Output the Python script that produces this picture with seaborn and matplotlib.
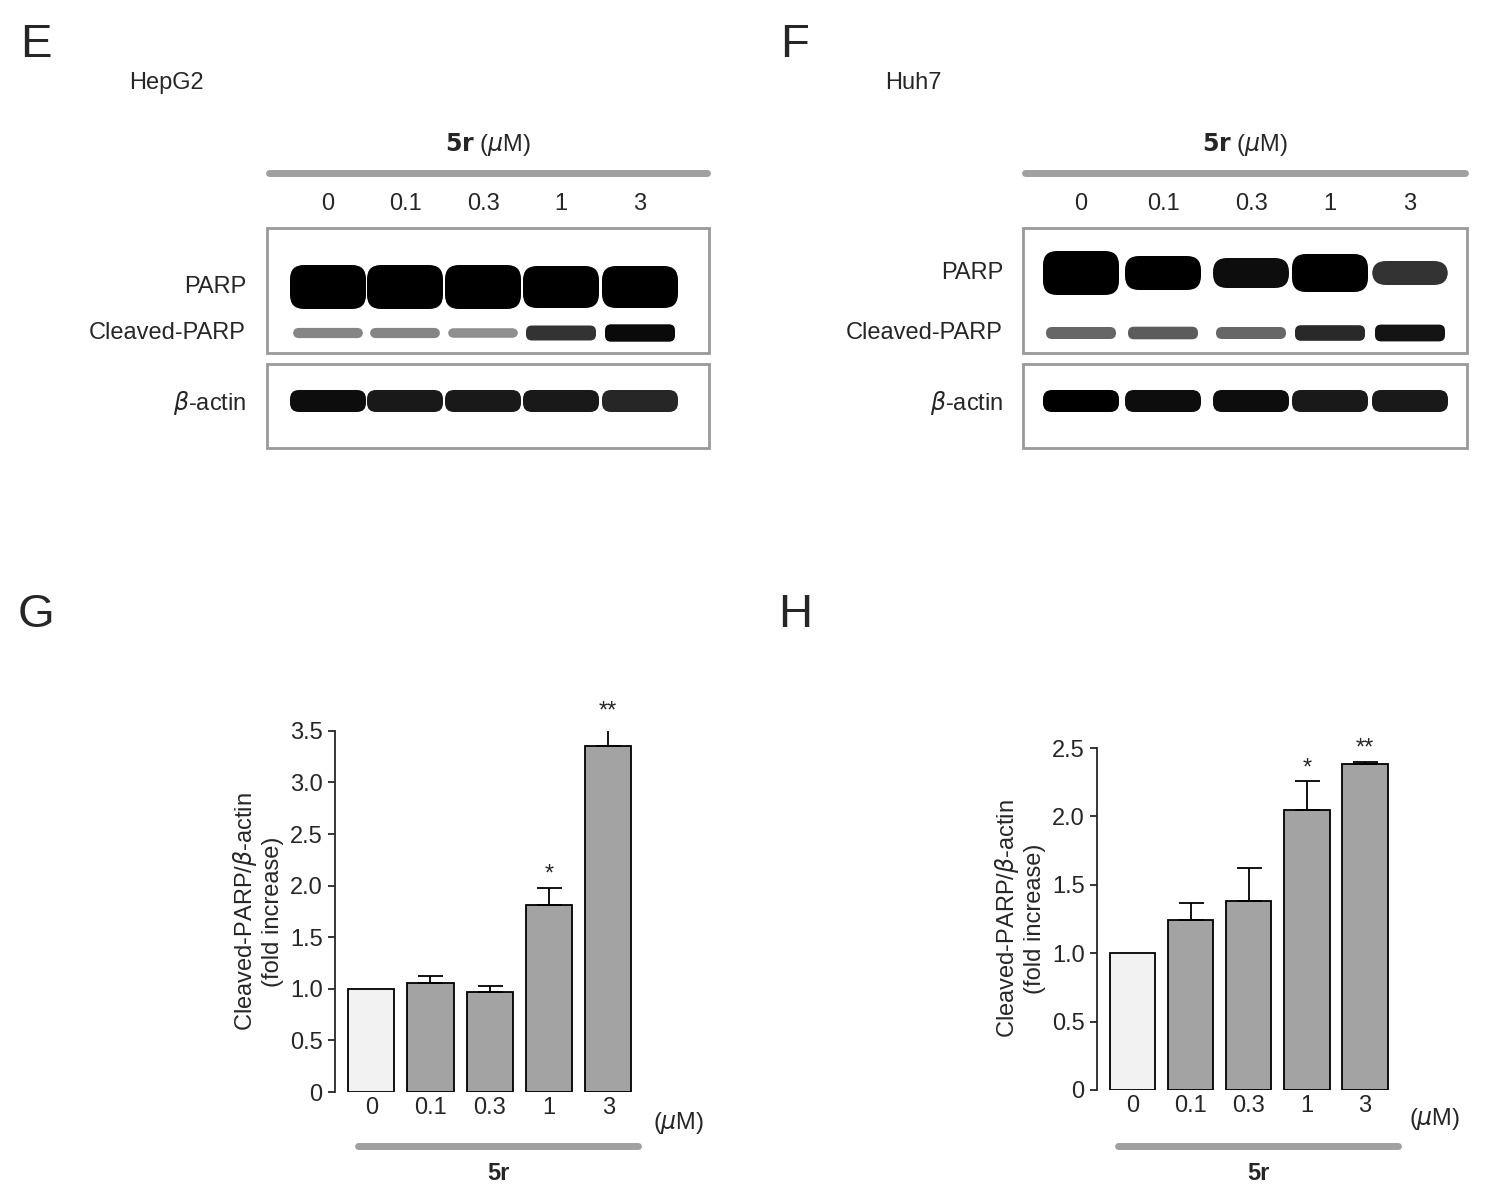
import matplotlib
matplotlib.use("Agg")
import matplotlib.pyplot as plt
import seaborn as sns
import pandas as pd
from matplotlib.patches import Rectangle, FancyBboxPatch

sns.set_theme(style="ticks")
plt.rcParams['font.family'] = ['Liberation Sans', 'DejaVu Sans']

doses = ["0", "0.1", "0.3", "1", "3"]
hepg2_mean = [1.0, 1.06, 0.97, 1.81, 3.35]
hepg2_err = [0.0, 0.06, 0.06, 0.17, 0.21]
hepg2_sig = ["", "", "", "*", "**"]
huh7_mean = [1.0, 1.24, 1.38, 2.05, 2.38]
huh7_err = [0.0, 0.13, 0.24, 0.21, 0.02]
huh7_sig = ["", "", "", "*", "**"]
# relative band intensities (0..1) for blots
hepg2_parp = [1.0, 1.0, 1.0, 0.95, 0.95]
hepg2_cleaved = [0.35, 0.35, 0.3, 0.75, 0.95]
hepg2_actin = [0.95, 0.9, 0.9, 0.9, 0.85]
huh7_parp = [1.0, 0.75, 0.65, 0.85, 0.5]
huh7_cleaved = [0.5, 0.55, 0.5, 0.8, 0.9]
huh7_actin = [1.0, 0.95, 0.95, 0.9, 0.9]

fig = plt.figure(figsize=(15, 12.04), dpi=100)
ov = fig.add_axes([0, 0, 1, 1])
ov.set_xlim(0, 1500); ov.set_ylim(1204, 0); ov.axis("off")

def blot(x0, x1, lanes, title, cell, parp_y, parp, cleaved, actin, label_x):
    ov.text(x0 - 240 if False else label_x, 0, "")
    ov.plot([x0 + 2, x1 - 2], [173, 173], color="#a0a0a0", lw=5)
    ov.text((x0 + x1) / 2, 145, r"$\mathbf{5r}$ ($\mu$M)", ha="center", va="center", fontsize=17)
    for lx, d in zip(lanes, doses):
        ov.text(lx, 204, d, ha="center", va="center", fontsize=17)
    ov.add_patch(Rectangle((x0, 228), x1 - x0, 125, fill=False, ec="#999999", lw=2))
    ov.add_patch(Rectangle((x0, 364), x1 - x0, 84, fill=False, ec="#999999", lw=2))
    for lx, p, c, a in zip(lanes, parp, cleaved, actin):
        h = 40 * p
        ov.add_patch(FancyBboxPatch((lx - 36, parp_y - h / 2), 72, h, boxstyle="round,pad=2,rounding_size=14",
                                    fc="black", ec="none", alpha=min(1, 0.3 + p)))
        ov.add_patch(FancyBboxPatch((lx - 34, 333 - 6 * c - 2), 68, 12 * c + 4, boxstyle="round,pad=1,rounding_size=6",
                                    fc="black", ec="none", alpha=0.2 + 0.8 * c))
        ov.add_patch(FancyBboxPatch((lx - 37, 401 - 10), 74, 20, boxstyle="round,pad=1,rounding_size=9",
                                    fc="black", ec="none", alpha=a))
    ov.text(label_x, parp_y, "PARP", ha="right", va="center", fontsize=17)
    ov.text(label_x, 333, "Cleaved-PARP", ha="right", va="center", fontsize=17)
    ov.text(label_x, 403, r"$\beta$-actin", ha="right", va="center", fontsize=17)
    ov.text(x0 - 138, 83, cell, ha="left", va="center", fontsize=17)

ov.text(20, 45, "E", fontsize=34, va="center"); ov.text(780, 45, "F", fontsize=34, va="center")
ov.text(18, 615, "G", fontsize=34, va="center"); ov.text(778, 615, "H", fontsize=34, va="center")
blot(267, 709, [328, 405, 483, 561, 640], "", "HepG2", 287, hepg2_parp, hepg2_cleaved, hepg2_actin, 246)
blot(1023, 1467, [1081, 1163, 1251, 1330, 1410], "", "Huh7", 273, huh7_parp, huh7_cleaved, huh7_actin, 1003)

def bars(rect, mean, err, sig, ymax, step, ticks):
    ax = fig.add_axes(rect)
    df = pd.DataFrame({"dose": doses, "v": mean})
    sns.barplot(data=df, x="dose", y="v", ax=ax, palette=["#f2f2f2"] + ["#a3a3a3"] * 4,
                hue="dose", legend=False, edgecolor="black", linewidth=1.3, width=0.78)
    for i, (m, e, s) in enumerate(zip(mean, err, sig)):
        if e > 0:
            ax.errorbar(i, m, yerr=[[0], [e]], color="black", capsize=9, lw=1.3, capthick=1.3)
        if s:
            ax.text(i, m + e + ymax * 0.005, s, ha="center", va="bottom", fontsize=17)
    ax.set_ylim(0, ymax); ax.set_xlim(-0.62, 4.62)
    ax.set_yticks(ticks)
    ax.set_yticklabels(["0"] + [f"{t:.1f}" for t in ticks[1:]])
    ax.set_xlabel(""); ax.set_ylabel("Cleaved-PARP/$\\beta$-actin\n(fold increase)", fontsize=17)
    ax.tick_params(labelsize=17, length=5, width=1.3)
    ax.tick_params(axis="x", length=0)
    sns.despine(ax=ax, bottom=True)
    ax.spines["left"].set_linewidth(1.3)
    ax.text(4.75, -ymax * 0.085, "($\\mu$M)", fontsize=17, va="center", ha="left", transform=ax.transData, clip_on=False)
    return ax

bars([0.223, 0.093, 0.207, 0.300], hepg2_mean, hepg2_err, hepg2_sig, 3.5, 0.5, [0, 0.5, 1, 1.5, 2, 2.5, 3, 3.5])
bars([0.731, 0.0947, 0.203, 0.284], huh7_mean, huh7_err, huh7_sig, 2.5, 0.5, [0, 0.5, 1, 1.5, 2, 2.5])
ov.plot([358, 638], [1146, 1146], color="#a0a0a0", lw=5)
ov.text(498, 1174, "5r", fontweight="bold", fontsize=17, ha="center", va="center")
ov.plot([1118, 1398], [1146, 1146], color="#a0a0a0", lw=5)
ov.text(1258, 1174, "5r", fontweight="bold", fontsize=17, ha="center", va="center")

fig.savefig("out.png", dpi=100, facecolor="white")
